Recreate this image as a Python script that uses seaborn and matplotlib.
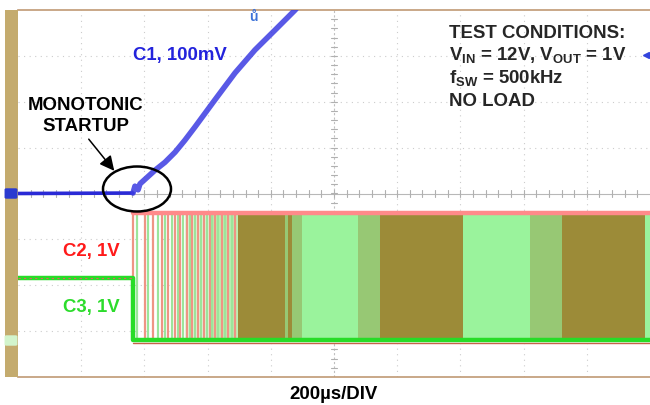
import numpy as np
import pandas as pd
import matplotlib
matplotlib.use("Agg")
import matplotlib.pyplot as plt
import seaborn as sns
from matplotlib.patches import Ellipse, Rectangle, FancyBboxPatch
from matplotlib.lines import Line2D

# ---------------- data (read from the scope capture) ----------------
# C1: output voltage, 100 mV/div
C1_T_US = [0, 364, 370, 380, 386, 434, 465, 497, 528, 560, 623, 687, 750, 813, 877, 910]
C1_MV = [0, 1, 16, 8, 21, 51, 68, 90, 116, 145, 204, 263, 313, 356, 400, 428]

# C2 / C3 : gate drive signals, 1 V/div
SW_T_US = [0, 364, 364, 2000]
C2_V = [1.36, 1.36, 2.78, 2.78]
C3_V = [1.36, 1.36, 0.0, 0.0]
C2_LOW_V = -0.05

# individual switching pulses right after start-up
PULSE_T_US = [364, 377, 402, 411, 427, 443, 456, 465, 475, 487, 497, 506, 513, 522,
              535, 544, 551, 560, 570, 579, 589, 598, 608, 614, 623, 633, 646,
              655, 665, 677, 687]

# persistence blocks of dense switching
BLOCK_START_US = [530, 610, 696, 844, 854, 867, 899, 1076, 1146, 1408, 1620, 1722, 1984]
BLOCK_END_US = [610, 696, 844, 854, 867, 899, 1076, 1146, 1408, 1620, 1722, 1984, 2000]
BLOCK_KIND = ["pale", "tint", "olive", "mid", "olive", "mid", "light", "mid",
              "olive", "light", "mid", "olive", "light"]

# ---------------- style ----------------
sns.set_style("white")
plt.rcParams["font.family"] = ["Liberation Sans", "DejaVu Sans"]
plt.rcParams["mathtext.fontset"] = "custom"
plt.rcParams["mathtext.rm"] = "Liberation Sans"
plt.rcParams["mathtext.bf"] = "Liberation Sans:bold"
plt.rcParams["mathtext.it"] = "Liberation Sans:italic"

W, H = 650, 405
fig = plt.figure(figsize=(W / 100, H / 100), dpi=100)
fig.patch.set_facecolor("white")

PL, PT, PR, PB = 18, 10, 650, 377
ax = fig.add_axes([PL / W, 1 - PB / H, (PR - PL) / W, (PB - PT) / H])
ax.set_xlim(0, 2000)
ax.set_ylim(-4, 4)
ax.set_xticks([])
ax.set_yticks([])
for s in ["left", "right"]:
    ax.spines[s].set_visible(False)
for s in ["top", "bottom"]:
    ax.spines[s].set_color("#c09a74")
    ax.spines[s].set_linewidth(1.2)

C1_SCALE, C1_OFF = 100.0, 0.0
C23_SCALE, C23_OFF = 1.0, -3.2

def c1div(v):
    return np.asarray(v, float) / C1_SCALE + C1_OFF

def c23div(v):
    return np.asarray(v, float) / C23_SCALE + C23_OFF

# ---------------- graticule ----------------
gcol = "#cccccc"
for i in range(1, 10):
    if i != 5:
        ax.axvline(i * 200, color=gcol, lw=0.8, ls=(0, (1, 4)), zorder=0)
for j in range(-3, 4):
    if j != 0:
        ax.axhline(j, color=gcol, lw=0.8, ls=(0, (1, 4)), zorder=0)
ax.axhline(0, color="#b8b8b8", lw=0.8, zorder=0)
ax.axvline(1000, color="#c0c0c0", lw=0.8, ls=(0, (2, 2)), zorder=0)
for t in np.arange(40, 2000, 40):
    ax.plot([t, t], [-0.07, 0.07], color="#b0b0b0", lw=0.8, zorder=0)
for v in np.arange(-3.8, 4.0, 0.2):
    ax.plot([990, 1010], [v, v], color="#b0b0b0", lw=0.8, zorder=0)

# ---------------- switching blocks ----------------
kind_col = {"pale": "#e3f7dc", "tint": "#bdeeb2", "olive": "#9c8b38",
            "mid": "#97c874", "light": "#9af39c"}
y_hi = float(c23div(C2_V[-1])) - 0.03
y_lo = float(c23div(C3_V[-1])) + 0.03
for s, e, k in zip(BLOCK_START_US, BLOCK_END_US, BLOCK_KIND):
    ax.fill_between([s, e], [y_lo, y_lo], [y_hi, y_hi], color=kind_col[k], lw=0, zorder=1)

pulse_cols = ["#ee9484", "#9be59b"]
for i, t in enumerate(PULSE_T_US):
    ax.plot([t, t], [y_lo, y_hi], color=pulse_cols[i % 2], lw=1.6, zorder=2)

# ---------------- traces ----------------
sw = pd.DataFrame({"t": SW_T_US, "c2": c23div(C2_V), "c3": c23div(C3_V)})
sns.lineplot(data=sw, x="t", y="c3", ax=ax, color="#27dc27", lw=3.2,
             estimator=None, sort=False, zorder=4)
sns.lineplot(x=[SW_T_US[1], SW_T_US[-1]], y=c23div([C2_LOW_V, C2_LOW_V]), ax=ax,
             color="#c8604a", lw=1.0, estimator=None, sort=False, zorder=3)
sns.lineplot(x=SW_T_US[2:], y=sw["c2"].values[2:], ax=ax, color="#ff8a8a", lw=3.2,
             estimator=None, sort=False, zorder=4)
sns.lineplot(x=SW_T_US[:2], y=sw["c2"].values[:2], ax=ax, color="#e06060", lw=0.8,
             ls=(0, (2, 3)), estimator=None, sort=False, zorder=5)

c1 = pd.DataFrame({"t": C1_T_US, "v": c1div(C1_MV)})
sns.lineplot(data=c1.iloc[:2], x="t", y="v", ax=ax, color="#2a2ad6", lw=2.6,
             estimator=None, sort=False, zorder=6)
sns.lineplot(data=c1.iloc[1:], x="t", y="v", ax=ax, color="#3c3ce2", lw=4.0,
             alpha=0.85, estimator=None, sort=False, zorder=6)
ax.set_xlabel("")
ax.set_ylabel("")
ax.set_xlim(0, 2000)
ax.set_ylim(-4, 4)

# ---------------- frame decorations ----------------
fig.add_artist(Rectangle((5 / W, 1 - PB / H), 13 / W, (PB - PT) / H,
                         transform=fig.transFigure, color="#c4ab6e", lw=0))
fig.add_artist(FancyBboxPatch((6.5 / W, 1 - 197.5 / H), 9 / W, 8 / H,
                              boxstyle="round,pad=0.003", transform=fig.transFigure,
                              color="#2a3ad0", lw=0))
fig.add_artist(FancyBboxPatch((6.5 / W, 1 - 344.5 / H), 9 / W, 8 / H,
                              boxstyle="round,pad=0.003", transform=fig.transFigure,
                              color="#d2f4cc", lw=0))
fig.text(253 / W, 1 - 21 / H, "ů", color="#3d73d8", fontsize=10, fontweight="bold",
         ha="center", va="baseline")
fig.add_artist(Line2D([646 / W], [1 - 55 / H], marker="<", markersize=4,
                      color="#3344dd", transform=fig.transFigure))

# ---------------- annotations ----------------
def fx(x):
    return x / W

def fy(y):
    return 1 - y / H

fs = 13.4
fig.text(fx(133), fy(60), "C1, 100mV", color="#2323dc", fontsize=fs,
         fontweight="bold", va="baseline")
fig.text(fx(86), fy(110), "MONOTONIC", color="black", fontsize=fs,
         fontweight="bold", va="baseline", ha="center")
fig.text(fx(86), fy(131), "STARTUP", color="black", fontsize=fs,
         fontweight="bold", va="baseline", ha="center")
fig.text(fx(63), fy(256), "C2, 1V", color="#ff1a1a", fontsize=fs,
         fontweight="bold", va="baseline")
fig.text(fx(63), fy(312), "C3, 1V", color="#2cdc2c", fontsize=fs,
         fontweight="bold", va="baseline")
fig.text(fx(334), fy(399), "200µs/DIV", color="black", fontsize=fs,
         fontweight="bold", va="baseline", ha="center")

tx = fx(449)
fig.text(tx, fy(38), "TEST CONDITIONS:", fontsize=fs, fontweight="bold", va="baseline")
fig.text(tx, fy(60), r"V$_{\mathbf{IN}}$ = 12V, V$_{\mathbf{OUT}}$ = 1V", fontsize=fs,
         fontweight="bold", va="baseline")
fig.text(tx, fy(83), r"f$_{\mathbf{SW}}$ = 500kHz", fontsize=fs, fontweight="bold",
         va="baseline")
fig.text(tx, fy(106), "NO LOAD", fontsize=fs, fontweight="bold", va="baseline")

fig.add_artist(Ellipse((fx(137), fy(189)), 68 / W, 45 / H, transform=fig.transFigure,
                       fill=False, edgecolor="black", lw=1.8, zorder=10))
ax.annotate("", xy=(116, H - 173), xytext=(87, H - 137), xycoords="figure pixels",
            textcoords="figure pixels",
            arrowprops=dict(arrowstyle="-|>", color="black", lw=1.1, mutation_scale=22))

fig.savefig("out.png", dpi=100)
